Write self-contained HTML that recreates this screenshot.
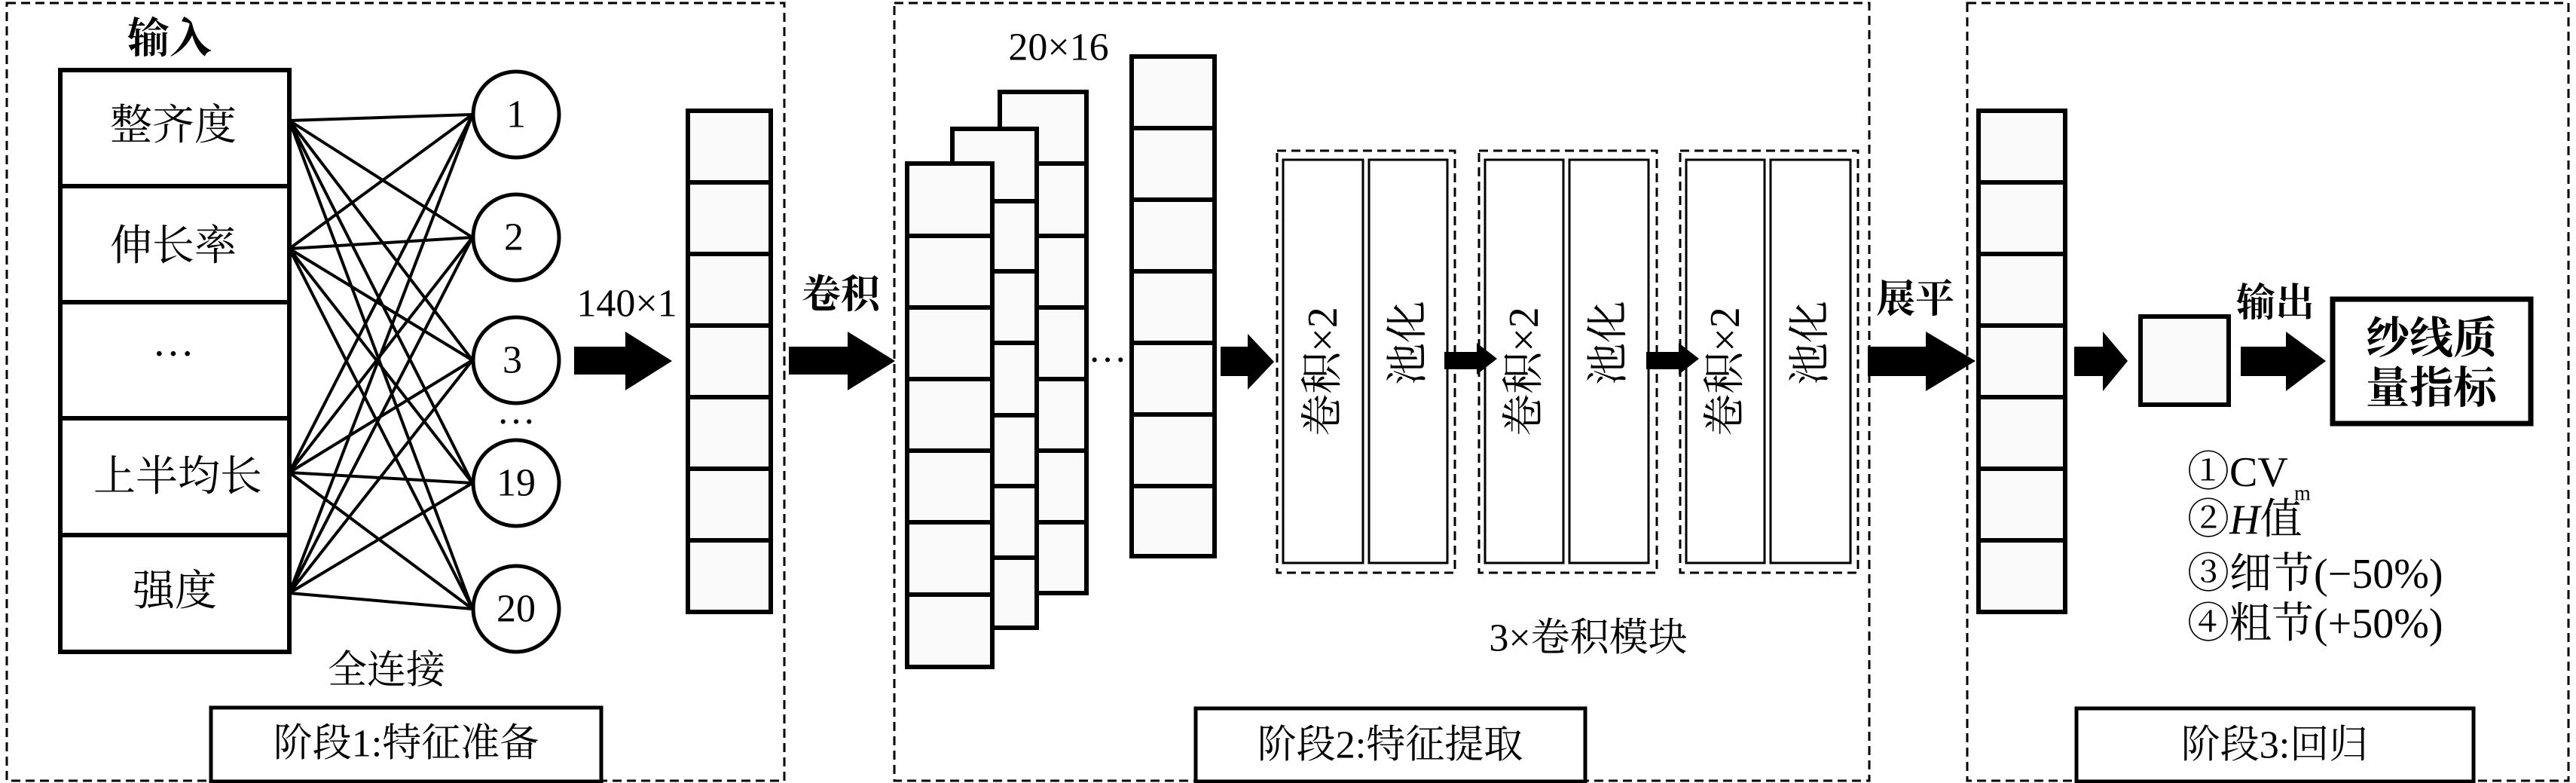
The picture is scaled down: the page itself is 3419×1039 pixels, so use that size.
<!DOCTYPE html>
<html><head><meta charset="utf-8"><style>
body{margin:0;background:#fff}
svg{display:block}
text{font-family:"Liberation Serif","Noto Serif CJK SC",serif;fill:#000}
</style></head><body>
<svg width="3419" height="1039" viewBox="0 0 3419 1039" xmlns="http://www.w3.org/2000/svg">
<g fill="none" stroke="#000" stroke-width="3" stroke-dasharray="12,7">
<rect x="9" y="4" width="1032" height="1032"/>
<rect x="1187" y="4" width="1294" height="1032"/>
<rect x="2611" y="4" width="798" height="1032"/>
<rect x="1695" y="200" width="236" height="560"/>
<rect x="1963" y="200" width="236" height="560"/>
<rect x="2230" y="200" width="236" height="560"/>
</g>
<!-- input table -->
<g stroke="#000" stroke-width="6" fill="#fff">
<rect x="80" y="93" width="304" height="772"/>
<line x1="80" y1="247" x2="384" y2="247"/>
<line x1="80" y1="401" x2="384" y2="401"/>
<line x1="80" y1="555" x2="384" y2="555"/>
<line x1="80" y1="710" x2="384" y2="710"/>
</g>
<g stroke="#000" stroke-width="4">
<path d="M384 160L627 152M384 160L627 315M384 160L627 478M384 160L627 641M384 160L627 808
M384 330L627 152M384 330L627 315M384 330L627 478M384 330L627 641M384 330L627 808
M384 627L627 152M384 627L627 315M384 627L627 478M384 627L627 641M384 627L627 808
M384 787L627 152M384 787L627 315M384 787L627 478M384 787L627 641M384 787L627 808"/>
</g>
<g stroke="#000" stroke-width="5" fill="#fff">
<circle cx="685" cy="152" r="57"/><circle cx="685" cy="315" r="57"/><circle cx="685" cy="478" r="57"/><circle cx="685" cy="641" r="57"/><circle cx="685" cy="808" r="57"/>
</g>
<!-- label boxes -->
<g stroke="#000" stroke-width="5" fill="none">
<rect x="280" y="939" width="518" height="98"/>
<rect x="1587" y="940" width="517" height="97"/>
<rect x="2756" y="940" width="527" height="97"/>
</g>
<!-- vectors -->
<g stroke="#000" stroke-width="6" fill="#fafafa">
<rect x="913" y="147" width="110" height="665"/>
<rect x="2626" y="147" width="115" height="665"/>
<rect x="1327" y="122" width="115" height="665"/>
<rect x="1264" y="171" width="112" height="662"/>
<rect x="1204" y="217" width="113" height="668"/>
<rect x="1502" y="75" width="110" height="663"/>
<rect x="2841" y="420" width="117" height="117"/>
<rect x="3096" y="397" width="263" height="165" fill="#fff" stroke-width="7"/>
</g>
<g stroke="#000" stroke-width="6">
<path d="M913 242H1023M913 337H1023M913 432H1023M913 527H1023M913 622H1023M913 717H1023"/>
<path d="M2626 242H2741M2626 337H2741M2626 432H2741M2626 527H2741M2626 622H2741M2626 717H2741"/>
<path d="M1376 217H1442M1376 313H1442M1376 408H1442M1376 503H1442M1376 598H1442M1376 693H1442"/>
<path d="M1317 267H1376M1317 360H1376M1317 455H1376M1317 551H1376M1317 645H1376M1317 740H1376"/>
<path d="M1204 313H1317M1204 408H1317M1204 503H1317M1204 598H1317M1204 693H1317M1204 789H1317"/>
<path d="M1502 170H1612M1502 265H1612M1502 360H1612M1502 455H1612M1502 550H1612M1502 645H1612"/>
</g>
<!-- module boxes -->
<g stroke="#000" stroke-width="3" fill="#fff">
<rect x="1703" y="212" width="106" height="535"/><rect x="1817" y="212" width="104" height="535"/>
<rect x="1971" y="212" width="104" height="535"/><rect x="2083" y="212" width="105" height="535"/>
<rect x="2238" y="212" width="104" height="535"/><rect x="2350" y="212" width="106" height="535"/>
</g>
<g font-size="56" text-anchor="middle" dominant-baseline="central">
<text x="225" y="52" font-weight="bold">输入</text>
<text x="230" y="167">整齐度</text>
<text x="230" y="327">伸长率</text>
<text x="230" y="470">···</text>
<text x="236" y="633">上半均长</text>
<text x="232" y="785">强度</text>
<text transform="translate(1756,493) rotate(-90)">卷积×2</text>
<text transform="translate(1869,455) rotate(-90)">池化</text>
<text transform="translate(2023,493) rotate(-90)">卷积×2</text>
<text transform="translate(2135,455) rotate(-90)">池化</text>
<text transform="translate(2290,493) rotate(-90)">卷积×2</text>
<text transform="translate(2403,455) rotate(-90)">池化</text>
</g>
<g font-size="52" text-anchor="middle" dominant-baseline="central">
<text x="685" y="152">1</text><text x="682" y="315">2</text><text x="680" y="478">3</text><text x="685" y="641">19</text><text x="685" y="808">20</text>
<text x="685" y="560">···</text>
<text x="832" y="403">140×1</text>
<text x="513" y="890">全连接</text>
<text x="539" y="987">阶段1:特征准备</text>
<text x="1116" y="392" font-weight="bold">卷积</text>
<text x="1405" y="63">20×16</text>
<text x="1470" y="478">···</text>
<text x="2108" y="847">3×卷积模块</text>
<text x="1845" y="989">阶段2:特征提取</text>
<text x="2542" y="398" font-weight="bold">展平</text>
<text x="3020" y="403" font-weight="bold">输出</text>
<text x="3227" y="449" font-weight="bold" font-size="58">纱线质</text>
<text x="3227" y="515" font-weight="bold" font-size="58">量指标</text>
<text x="3019" y="989">阶段3:回归</text>
</g>
<g font-size="56" dominant-baseline="central">
<text x="2903" y="627">①CV</text>
<text x="3045" y="655" font-size="28">m</text>
<text x="2903" y="690">②<tspan font-style="italic">H</tspan>值</text>
<text x="2903" y="762">③细节(−50%)</text>
<text x="2903" y="828">④粗节(+50%)</text>
</g>
<!-- arrows -->
<g fill="#000">
<polygon points="762,460 830,460 830,440 892,479 830,518 830,497 762,497"/>
<polygon points="1047,460 1125,460 1125,440 1188,479 1125,518 1125,497 1047,497"/>
<polygon points="1620,460 1656,460 1656,443 1691,480 1656,517 1656,499 1620,499"/>
<polygon points="1917,467 1960,467 1960,455 1987,476 1960,497 1960,490 1917,490"/>
<polygon points="2185,467 2228,467 2228,455 2255,476 2228,497 2228,490 2185,490"/>
<polygon points="2479,460 2556,460 2556,440 2622,479 2556,519 2556,499 2479,499"/>
<polygon points="2753,460 2791,460 2791,440 2824,479 2791,519 2791,499 2753,499"/>
<polygon points="2974,460 3034,460 3034,440 3087,479 3034,519 3034,499 2974,499"/>
</g>
</svg>
</body></html>
